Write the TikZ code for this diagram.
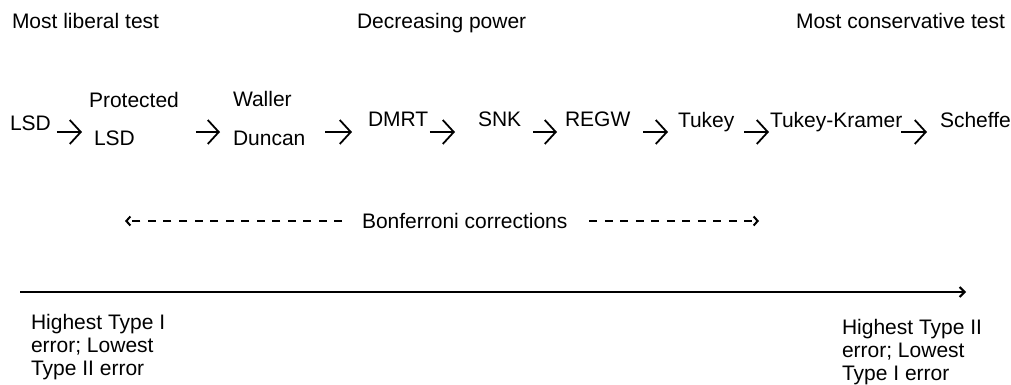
\documentclass[tikz,border=0pt]{standalone}
\usepackage{fontspec}
\setmainfont{Liberation Sans}
\usetikzlibrary{arrows.meta}
\begin{document}
\begin{tikzpicture}[x=1bp,y=-1bp,
  lbl/.style={anchor=base west,inner sep=0pt,outer sep=0pt,font=\fontsize{21bp}{23bp}\selectfont},
  chev/.style={line width=1.8bp,-{Straight Barb[length=11bp,width=24bp,line width=1.8bp]}},
  bonf/.style={line width=2bp,dash pattern=on 8bp off 7.5bp,-{Straight Barb[length=4bp,width=9bp,line width=2bp]}},
  axis/.style={line width=2bp,-{Straight Barb[length=5bp,width=10bp,line width=2bp]}}]
\useasboundingbox (0,0) rectangle (1011,384);
% headings
\node[lbl] (lib) at (12,28) {Most liberal test};
\node[lbl] (dec) at (357,28) {Decreasing power};
\node[lbl] (con) at (796,28) {Most conservative test};
% chain
\coordinate (row) at (0,132);
\node[lbl] (lsd1) at (10,130) {LSD};
\node[lbl] (prot) at (89,107) {Protected};
\node[lbl] (plsd) at (94,145) {LSD};
\node[lbl] (wal) at (233,106) {Waller};
\node[lbl] (dun) at (233,145) {Duncan};
\node[lbl] (dmrt) at (368,126) {DMRT};
\node[lbl] (snk) at (478,126) {SNK};
\node[lbl] (regw) at (565,126) {REGW};
\node[lbl] (tuk) at (678,127) {Tukey};
\node[lbl] (tk) at (770,127) {Tukey-Kramer};
\node[lbl] (sch) at (940,127) {Scheffe};
\draw[chev] ([xshift=6bp]lsd1.east |- row) -- ([xshift=-12bp]plsd.west |- row);
\draw[chev] ([xshift=17bp]prot.east |- row) -- ([xshift=-13bp]dun.west |- row);
\draw[chev] ([xshift=20bp]dun.east |- row) -- ([xshift=-16bp]dmrt.west |- row);
\draw[chev] ([xshift=1.5bp]dmrt.east |- row) -- ([xshift=-23bp]snk.west |- row);
\draw[chev] ([xshift=12bp]snk.east |- row) -- ([xshift=-8bp]regw.west |- row);
\draw[chev] ([xshift=13bp]regw.east |- row) -- ([xshift=-10bp]tuk.west |- row);
\draw[chev] ([xshift=10bp]tuk.east |- row) -- ([xshift=-1bp]tk.west |- row);
\draw[chev] ([xshift=-1bp]tk.east |- row) -- ([xshift=-13bp]sch.west |- row);
% Bonferroni
\node[lbl] (bon) at (362,228) {Bonferroni corrections};
\coordinate (drow) at (0,221);
\coordinate (bl) at (125,221);
\coordinate (br) at (759,221);
\draw[bonf] ([xshift=-20bp]bon.west |- drow) -- (bl);
\draw[bonf] ([xshift=22bp]bon.east |- drow) -- (br);
% axis
\coordinate (ax0) at (20,292);
\coordinate (ax1) at (966,292);
\draw[axis] (ax0) -- (ax1);
\node[lbl] (lo) at (31,329) {\begin{tabular}[t]{@{}l@{}}Highest Type I\\error; Lowest\\Type II error\end{tabular}};
\node[lbl] (hi) at (842,334) {\begin{tabular}[t]{@{}l@{}}Highest Type II\\error; Lowest\\Type I error\end{tabular}};
\end{tikzpicture}
\end{document}
